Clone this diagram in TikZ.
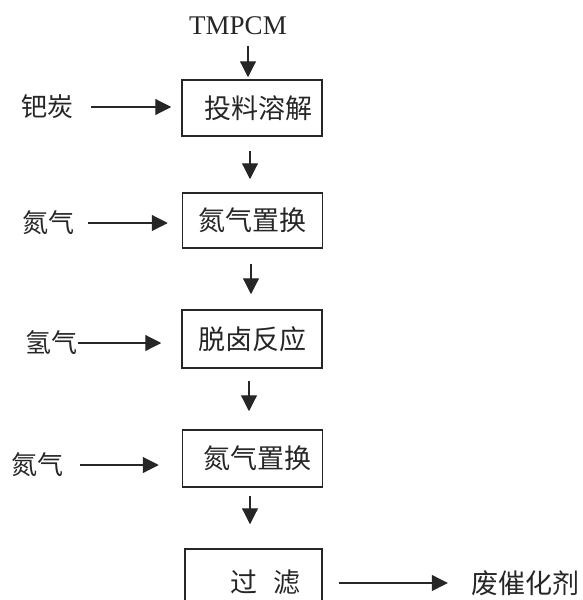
\documentclass[tikz,border=0pt]{standalone}
\usepackage{fontspec}
\setmainfont{Liberation Serif}
\newfontfamily\cjk{Noto Sans CJK SC}
\usetikzlibrary{arrows.meta}

\begin{document}
\begin{tikzpicture}[x=1pt, y=-1pt, black!85,
    box/.style={rectangle, draw, line width=1.5pt, minimum width=140pt, minimum height=57pt, font=\cjk\fontsize{27}{27}\selectfont},
    feed/.style={inner sep=0pt, font=\cjk\fontsize{26}{26}\selectfont},
    flow/.style={line width=1.2pt, -{Triangle[length=16pt, width=16pt]}}]
    \useasboundingbox (0,0) rectangle (583,600);
    \node[inner sep=0pt, font=\fontsize{27}{27}\selectfont] (tm) at (238,26) {TMPCM};
    \node[box, minimum height=56pt] (b1) at (252,108) {\hspace{12pt}投料溶解};
    \node[box, minimum height=55pt] (b2) at (252.5,220.5) {氮气置换\hspace{12pt}};
    \node[box, minimum height=58pt] (b3) at (252,339) {脱卤反应\hspace{9pt}};
    \node[box] (b4) at (252.5,458.5) {\hspace{10pt}氮气置换};
    \node[box, minimum width=137pt, minimum height=66pt] (b5) at (253.5,582) {\hspace{24pt}过\hspace{0.6em}滤};
    \node[feed] (pd) at (47,107) {钯炭};
    \node[feed] (n1) at (49,223) {氮气};
    \node[feed] (h2) at (51,343) {氢气};
    \node[feed] (n2) at (37.5,465) {氮气};
    \node[feed, font=\cjk\fontsize{27}{27}\selectfont] (waste) at (525,583) {废催化剂};
    % main line
    \draw[flow, shorten <=11pt, shorten >=2pt] (tm.south -| 248,0) -- (b1.north -| 248,0);
    \draw[flow, shorten <=14pt, shorten >=13pt] (b1.south -| 250,0) -- (b2.north -| 250,0);
    \draw[flow, shorten <=15pt, shorten >=15pt] (b2.south -| 251,0) -- (b3.north -| 251,0);
    \draw[flow, shorten <=12pt, shorten >=18pt] (b3.south -| 249,0) -- (b4.north -| 249,0);
    \draw[flow, shorten <=8pt, shorten >=24pt] (b4.south -| 250,0) -- (b5.north -| 250,0);
    % feeds
    \draw[flow, shorten <=18pt, shorten >=10pt] (pd.east) -- (pd.east -| b1.west);
    \draw[flow, shorten <=13pt, shorten >=14pt] (n1.east) -- (n1.east -| b2.west);
    \draw[flow, shorten <=1pt, shorten >=20pt] (h2.east) -- (h2.east -| b3.west);
    \draw[flow, shorten <=16pt, shorten >=23pt] (n2.east) -- (n2.east -| b4.west);
    \draw[flow, shorten <=16pt, shorten >=23pt] (waste.west -| b5.east) -- (waste.west);
\end{tikzpicture}
\end{document}
